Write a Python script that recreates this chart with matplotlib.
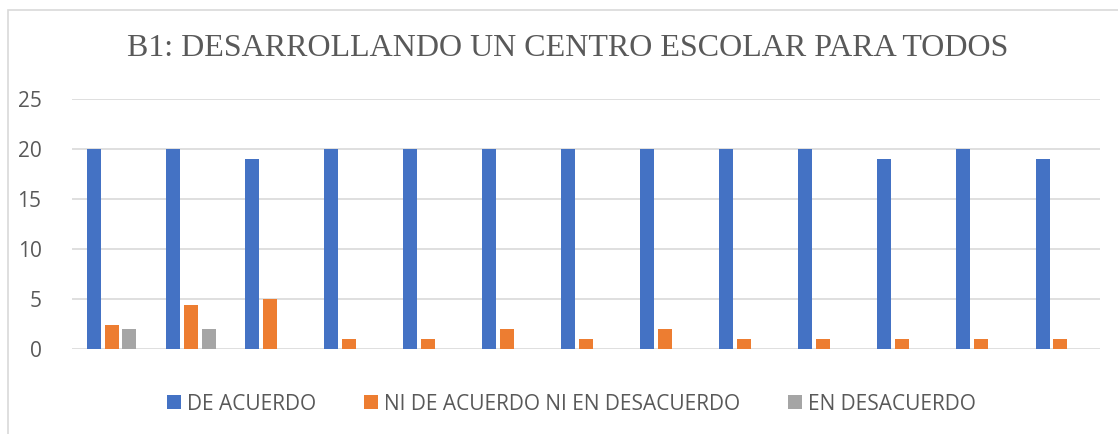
import matplotlib
matplotlib.use("Agg")
import matplotlib.pyplot as plt
import numpy as np
from matplotlib.patches import Rectangle

series_names = ["DE ACUERDO", "NI DE ACUERDO NI EN DESACUERDO", "EN DESACUERDO"]
de_acuerdo = [20, 20, 19, 20, 20, 20, 20, 20, 20, 20, 19, 20, 19]
ni_ni = [2.4, 4.4, 5, 1, 1, 2, 1, 2, 1, 1, 1, 1, 1]
en_desacuerdo = [2, 2, 0, 0, 0, 0, 0, 0, 0, 0, 0, 0, 0]
colors = ["#4472C4", "#ED7D31", "#A5A5A5"]
title = "B1: DESARROLLANDO UN CENTRO ESCOLAR PARA TODOS"
yticks = [0, 5, 10, 15, 20, 25]

W, H = 1118, 434
fig = plt.figure(figsize=(W / 100, H / 100), dpi=100)
ax = fig.add_axes([72 / W, 1 - 349 / H, (1100 - 72) / W, 250 / H])

x = np.arange(len(de_acuerdo))
off = 0.227
bw = 0.177
for i, (vals, name) in enumerate(zip([de_acuerdo, ni_ni, en_desacuerdo], series_names)):
    ax.bar(x + (i - 1) * off, vals, width=bw, color=colors[i], label=name, zorder=3)

ax.set_xlim(-0.5, len(de_acuerdo) - 0.5)
ax.set_ylim(0, 25)
ax.set_yticks(yticks)
ax.set_xticks([])
ax.grid(axis="y", color="#D9D9D9", linewidth=1.2, zorder=0)
for s in ax.spines.values():
    s.set_visible(False)
ax.tick_params(axis="y", length=0, pad=22, labelsize=15, labelcolor="#595959")
for lab in ax.get_yticklabels():
    lab.set_fontfamily("Open Sans")

fig.text(0.5 * (130 + 1005) / W, 1 - 48 / H, title, ha="center", va="center",
         fontsize=23, color="#595959", fontfamily="Liberation Serif")

leg = fig.legend(loc="center", bbox_to_anchor=(0.5 * (168 + 975) / W, 1 - 404 / H),
                 ncol=3, frameon=False, handlelength=0.65, handleheight=0.65,
                 handletextpad=0.3, columnspacing=2.3,
                 prop={"family": "Open Sans", "size": 15})
for t in leg.get_texts():
    t.set_color("#595959")

fig.patches.append(Rectangle((8 / W, -0.1), 1.2, 1 - 10 / H + 0.1, transform=fig.transFigure,
                             fill=False, edgecolor="#D9D9D9", linewidth=1.2))

fig.savefig("out.png", dpi=100)
